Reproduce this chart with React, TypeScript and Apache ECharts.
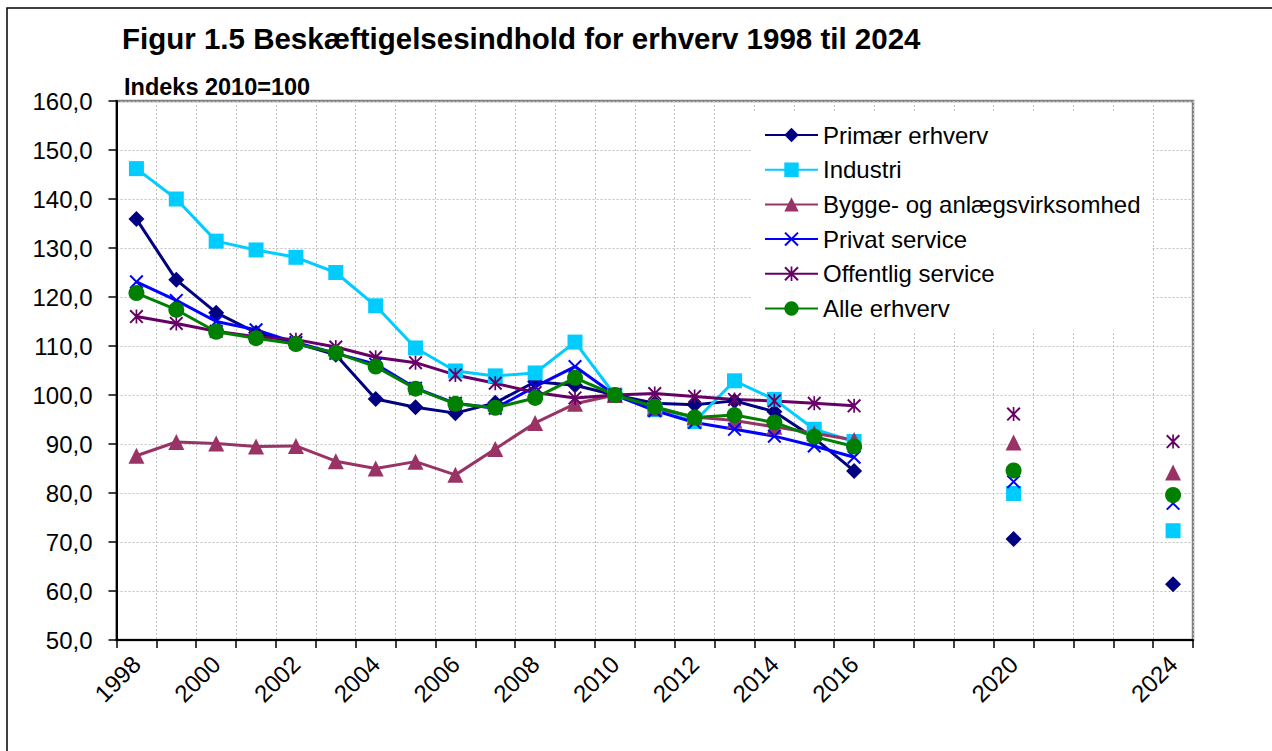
import React, { useEffect, useRef } from "react";
import * as echarts from "echarts";

const years = [
  "1998", "1999", "2000", "2001", "2002", "2003", "2004", "2005", "2006",
  "2007", "2008", "2009", "2010", "2011", "2012", "2013", "2014", "2015",
  "2016", "2017", "2018", "2019", "2020", "2021", "2022", "2023", "2024",
];
const shownYears = [
  "1998", "2000", "2002", "2004", "2006", "2008", "2010", "2012", "2014",
  "2016", "2020", "2024",
];
const yTicks = { min: 50, max: 160, step: 10 };

const primaer = [
  135.9, 123.5, 116.8, 112.7, 110.6, 108.2, 99.2, 97.5, 96.3, 98.4, 102.7,
  102.0, 100.0, 98.3, 98.0, 98.8, 96.6, 91.2, 84.5, null, null, null, 70.6,
  null, null, null, 61.4,
];
const industri = [
  146.2, 140.0, 131.4, 129.6, 128.1, 125.0, 118.2, 109.6, 104.9, 103.9, 104.5,
  110.8, 100.0, 97.0, 94.6, 102.9, 99.1, 93.0, 90.5, null, null, null, 79.9,
  null, null, null, 72.3,
];
const bygge = [
  87.6, 90.4, 90.1, 89.5, 89.6, 86.5, 85.0, 86.4, 83.7, 89.0, 94.3, 98.2,
  100.0, 97.3, 95.5, 94.8, 93.5, 92.2, 90.8, null, null, null, 90.3, null,
  null, null, 84.2,
];
const privat = [
  123.1, 119.3, 115.0, 113.3, 110.7, 108.5, 106.3, 101.4, 98.3, 97.3, 101.7,
  105.8, 100.0, 96.8, 94.4, 93.0, 91.6, 89.6, 87.3, null, null, null, 82.3,
  null, null, null, 77.9,
];
const offentlig = [
  116.0, 114.6, 113.0, 111.9, 111.3, 109.8, 107.7, 106.6, 104.1, 102.4, 100.5,
  99.4, 100.0, 100.3, 99.7, 99.1, 98.8, 98.3, 97.8, null, null, null, 96.1,
  null, null, null, 90.5,
];
const alle = [
  120.8, 117.4, 112.9, 111.6, 110.4, 108.6, 105.8, 101.3, 98.2, 97.4, 99.4,
  103.5, 100.0, 97.6, 95.4, 95.9, 94.4, 91.5, 89.5, null, null, null, 84.6,
  null, null, null, 79.6,
];

const seriesNames = [
  "Primær erhverv",
  "Industri",
  "Bygge- og anlægsvirksomhed",
  "Privat service",
  "Offentlig service",
  "Alle erhverv",
];
const seriesData = [primaer, industri, bygge, privat, offentlig, alle];
const seriesColors = ["#000080", "#00CCFF", "#993366", "#0000FF", "#660066", "#008000"];

const X_PATH =
  "path://M0,2 L2,0 L20,18 L18,20 Z M20,2 L2,20 L0,18 L18,0 Z";
const STAR_PATH =
  "path://M0,2 L2,0 L20,18 L18,20 Z M20,2 L2,20 L0,18 L18,0 Z M8.8,0 L11.2,0 L11.2,20 L8.8,20 Z";
const seriesSymbols = ["diamond", "rect", "triangle", X_PATH, STAR_PATH, "circle"];
const seriesSymbolSizes = [16, 15, 16, 14, 14, 16];

const FONT = '"Liberation Sans", Arial, sans-serif';

export default function App() {
  const ref = useRef<HTMLDivElement>(null);

  useEffect(() => {
    if (!ref.current) return;
    const chart = echarts.init(ref.current, undefined, { renderer: "svg" });
    const option = {
      animation: false,
      backgroundColor: "#ffffff",
      textStyle: { fontFamily: FONT },
      graphic: [
        {
          type: "rect",
          shape: { x: 7, y: 8, width: 1320, height: 800 },
          style: { fill: "none", stroke: "#000", lineWidth: 1.5 },
          silent: true,
          z: 100,
        },
        {
          type: "text",
          left: 122,
          top: 23,
          style: {
            text: "Figur 1.5 Beskæftigelsesindhold for erhverv 1998 til 2024",
            font: `bold 29.5px ${FONT}`,
            fill: "#000",
          },
        },
        {
          type: "text",
          left: 124,
          top: 75,
          style: {
            text: "Indeks 2010=100",
            font: `bold 23.5px ${FONT}`,
            fill: "#000",
          },
        },
      ],
      grid: {
        left: 116.5,
        top: 101,
        right: 79,
        bottom: 111,
        show: true,
        borderColor: "#808080",
        borderWidth: 2.5,
        backgroundColor: "transparent",
      },
      legend: {
        orient: "vertical",
        left: 752,
        top: 113,
        padding: [10, 12, 10, 12],
        backgroundColor: "#ffffff",
        itemWidth: 53,
        itemHeight: 18,
        itemGap: 10.7,
        data: seriesNames,
        textStyle: {
          fontFamily: FONT,
          fontSize: 24,
          lineHeight: 24,
          color: "#000",
          padding: [0, 0, 0, 0],
        },
      },
      xAxis: {
        type: "category",
        data: years,
        boundaryGap: true,
        axisLine: { lineStyle: { color: "#000", width: 2 } },
        axisTick: {
          show: true,
          interval: 0,
          alignWithLabel: false,
          length: 8,
          lineStyle: { color: "#000", width: 1.5 },
        },
        axisLabel: {
          interval: (_i: number, v: string) => shownYears.includes(v),
          rotate: 45,
          margin: 20,
          fontSize: 24,
          fontFamily: FONT,
          color: "#000",
        },
        splitLine: {
          show: true,
          interval: 0,
          lineStyle: { color: "#c0c0c0", type: [2, 2], width: 1 },
        },
      },
      yAxis: {
        type: "value",
        min: yTicks.min,
        max: yTicks.max,
        interval: yTicks.step,
        axisLine: { show: true, lineStyle: { color: "#000", width: 2 } },
        axisTick: { show: true, length: 8, lineStyle: { color: "#000", width: 1.5 } },
        axisLabel: {
          margin: 24,
          fontSize: 24,
          fontFamily: FONT,
          color: "#000",
          formatter: (v: number) => v.toFixed(1).replace(".", ","),
        },
        splitLine: {
          show: true,
          lineStyle: { color: "#c0c0c0", type: [2, 2], width: 1 },
        },
      },
      series: seriesNames.map((name, i) => ({
        name,
        type: "line",
        data: seriesData[i],
        connectNulls: false,
        symbol: seriesSymbols[i],
        symbolSize: seriesSymbolSizes[i],
        showSymbol: true,
        showAllSymbol: true,
        color: seriesColors[i],
        lineStyle: { color: seriesColors[i], width: 3 },
        itemStyle: { color: seriesColors[i], borderWidth: 0 },
        emphasis: { disabled: true },
      })),
    };
    chart.setOption(option as any);
    return () => chart.dispose();
  }, []);

  return (
    <div
      ref={ref}
      style={{
        position: "fixed",
        left: 0,
        top: 0,
        width: 1272,
        height: 751,
        background: "#fff",
      }}
    />
  );
}
